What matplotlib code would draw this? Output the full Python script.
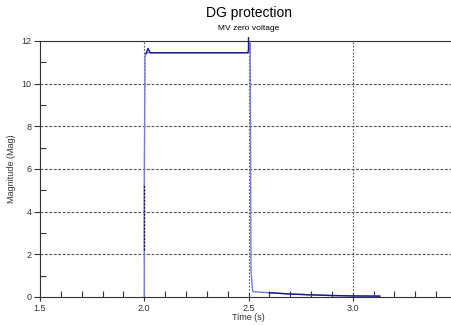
import matplotlib
matplotlib.use("Agg")
import matplotlib.pyplot as plt
from matplotlib.ticker import MultipleLocator

plt.rcParams['font.family'] = ['Liberation Sans', 'DejaVu Sans']

# light blue trace (transitions)
t_light = [2.000, 2.000, 2.004, 2.010, 2.505, 2.508, 2.512, 2.520, 2.600, 2.700, 2.800, 2.900, 3.000, 3.130]
v_light = [0.00, 5.30, 11.30, 11.45, 11.45, 11.90, 1.20, 0.25, 0.20, 0.14, 0.10, 0.07, 0.05, 0.04]

# dark navy trace
t_dark = [2.008, 2.018, 2.028, 2.497, 2.500, 2.500]
v_dark = [11.40, 11.65, 11.45, 11.45, 11.60, 12.15]

# dark dotted segment on the rising edge
t_rise = [2.000, 2.000]
v_rise = [2.20, 5.30]

t_tail = [2.600, 2.650, 2.700, 2.750, 2.800, 2.900, 3.000, 3.130]
v_tail = [0.20, 0.17, 0.14, 0.12, 0.10, 0.07, 0.05, 0.04]

fig = plt.figure(figsize=(4.52, 3.25), dpi=100)
ax = fig.add_axes([40/452, 28/325, 417/452, 256/325])

ax.plot(t_light, v_light, color='#7b7bd6', lw=1.0, zorder=3)
ax.plot(t_dark, v_dark, color='#1a1a85', lw=1.0, zorder=4, clip_on=False)
ax.plot(t_rise, v_rise, color='#1a1a40', lw=1.0, ls=(0, (1.5, 1.0)), zorder=4)
ax.plot(t_tail, v_tail, color='#1a1a85', lw=1.0, zorder=4)

ax.set_xlim(1.5, 3.5)
ax.set_ylim(0, 12)
ax.xaxis.set_major_locator(MultipleLocator(0.5))
ax.xaxis.set_minor_locator(MultipleLocator(0.1))
ax.yaxis.set_major_locator(MultipleLocator(2))
ax.yaxis.set_minor_locator(MultipleLocator(1))
ax.set_xticks([1.5, 2.0, 2.5, 3.0, 3.5])
ax.set_xticklabels(['1.5', '2.0', '2.5', '3.0', '3.5'])

ax.tick_params(axis='x', which='major', direction='inout', length=6, width=0.8, labelsize=6.5, pad=2, colors='#333333')
ax.tick_params(axis='x', which='minor', direction='in', length=4, width=0.8, colors='#333333')
ax.tick_params(axis='y', which='major', direction='out', length=4, width=0.8, labelsize=6.5, pad=2, colors='#333333')
ax.tick_params(axis='y', which='minor', direction='in', length=4, width=0.8, colors='#333333')

ax.spines['right'].set_visible(False)
for s in ['left', 'bottom', 'top']:
    ax.spines[s].set_linewidth(0.8)
    ax.spines[s].set_color('#333333')

for x in [2.0, 2.5, 3.0]:
    ax.axvline(x, color='#555555', lw=0.8, ls=(0, (1.5, 1.5)), zorder=1)
for y in [2, 4, 6, 8, 10]:
    ax.axhline(y, color='#555555', lw=0.8, ls=(0, (2.5, 1.5)), zorder=1)

ax.set_xlabel('Time (s)', fontsize=6.5, labelpad=0, color='#333333')
ax.set_ylabel('Magnitude (Mag)', fontsize=6.5, labelpad=4, color='#333333')

fig.text(249/452, 1 - 13/325, 'DG protection', ha='center', va='center', fontsize=10)
fig.text(249/452, 1 - 28/325, 'MV zero voltage', ha='center', va='center', fontsize=6)

fig.savefig('out.png', dpi=100)
